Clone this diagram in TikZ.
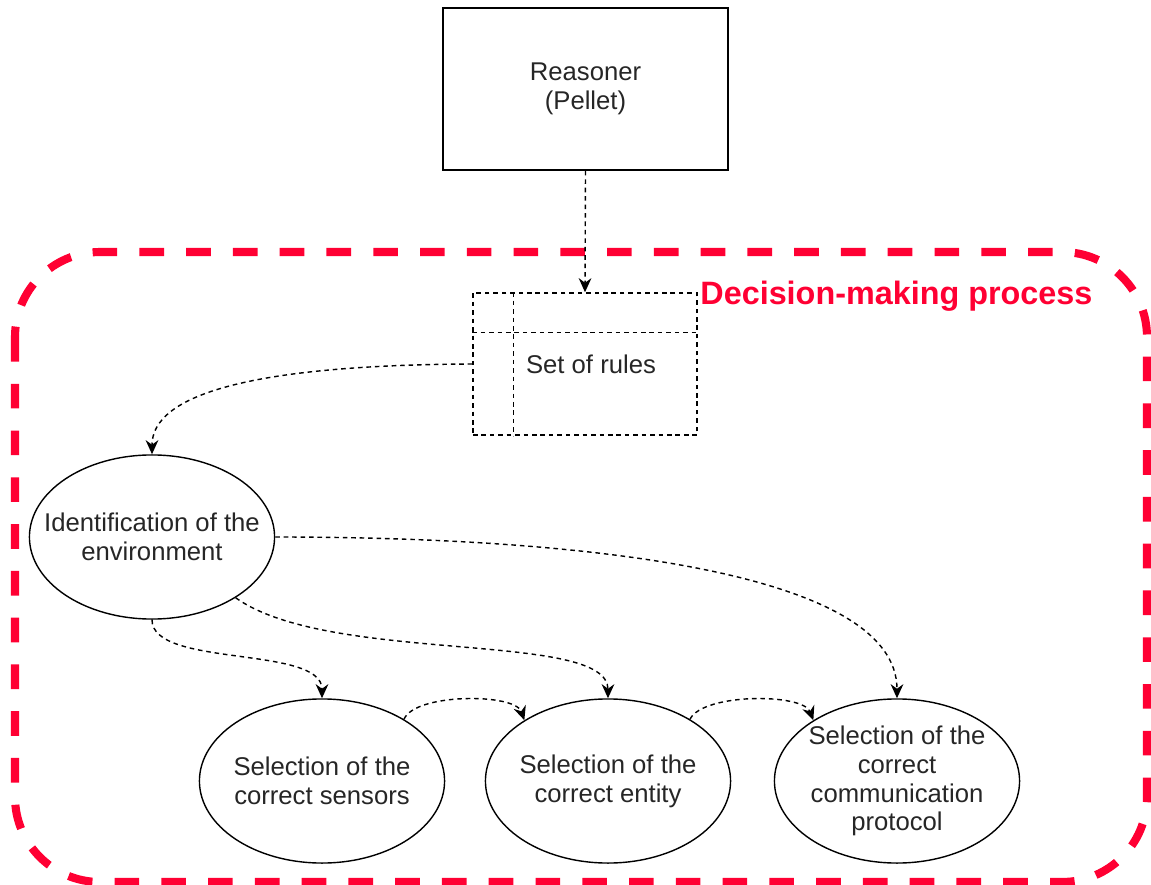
\documentclass[tikz,border=0pt]{standalone}
\usepackage{fontspec}
\setmainfont{Liberation Sans}
\usetikzlibrary{arrows.meta, shapes.geometric}
\definecolor{procred}{RGB}{255,0,51}
\begin{document}
\begin{tikzpicture}[x=0.01cm, y=-0.01cm,
    every node/.style={font=\fontsize{7.3}{8.2}\selectfont, text=black!85, align=center},
    task/.style={draw, ellipse, line width=0.4pt, minimum width=2.45cm, minimum height=1.64cm, inner xsep=-14pt, inner ysep=-6pt},
    fine dash/.style={dash pattern=on 1.3pt off 1.1pt},
    link/.style={line width=0.4pt, fine dash, -{Stealth[length=4pt, width=3.6pt]}}]
    \useasboundingbox (0,0) rectangle (1151,885);

    % First draw the decision-making frame
    \draw[procred, line width=2.3pt, dash pattern=on 7pt off 6.3pt, rounded corners=0.85cm] (15,252) rectangle (1147,882);
    \node[anchor=west, text=procred, font=\fontsize{9.2}{11}\selectfont\bfseries] (title) at (688,296) {Decision-making process};

    % Then the boxes and the ellipses
    \node[draw, line width=0.45pt, minimum width=2.85cm, minimum height=1.62cm] (reasoner) at (585.5,89) {Reasoner\\(Pellet)};
    \node[draw, fine dash, line width=0.4pt, minimum width=2.24cm, minimum height=1.42cm] (rules) at (585,364) {\hspace*{0.12cm}Set of rules};
    \draw[fine dash, line width=0.4pt] ([xshift=0.41cm]rules.north west) -- ([xshift=0.41cm]rules.south west);
    \draw[fine dash, line width=0.4pt] ([yshift=-0.4cm]rules.north west) -- ([yshift=-0.4cm]rules.north east);

    \node[task] (ident) at (152,537) {Identification of the\\environment};
    \node[task] (sens) at (322,781) {Selection of the\\correct sensors};
    \node[task] (ent) at (608,781) {Selection of the\\correct entity};
    \node[task] (prot) at (897,781) {Selection of the\\correct\\communication\\protocol};

    % Connectors
    \draw[link] (reasoner.south) -- (rules.north);
    \draw[link] (rules.west) .. controls (250,365) and (152,395) .. (ident.north);
    \draw[link] (ident.east) .. controls (600,537) and (897,575) .. (prot.north);
    \draw[link] (ident.-36) .. controls (330,665) and (608,630) .. (ent.north);
    \draw[link] (ident.south) .. controls (152,668) and (322,645) .. (sens.north);
    \draw[link] (sens.37) .. controls (415,693) and (515,693) .. (ent.144);
    \draw[link] (ent.37) .. controls (703,693) and (803,693) .. (prot.144);
\end{tikzpicture}
\end{document}
